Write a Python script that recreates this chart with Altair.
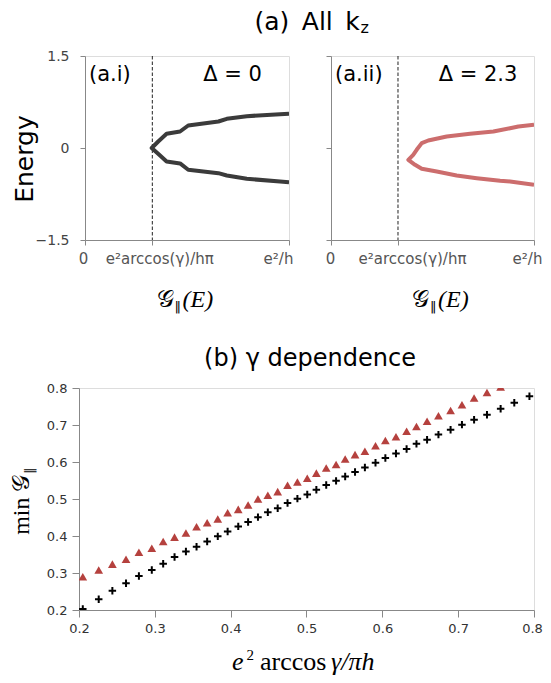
import altair as alt
import pandas as pd

# ---------------- Panel (a) data ----------------
a_g_black = [1.000, 0.956, 0.793, 0.695, 0.654, 0.506, 0.466, 0.400, 0.359, 0.327,
             0.368, 0.400, 0.466, 0.506, 0.654, 0.695, 0.793, 0.956, 1.000]
a_E_black = [0.558, 0.551, 0.519, 0.476, 0.432, 0.367, 0.269, 0.232, 0.106, 0.000,
             -0.122, -0.220, -0.252, -0.355, -0.410, -0.448, -0.502, -0.546, -0.557]
a_g_red = [1.000, 0.923, 0.882, 0.800, 0.685, 0.570, 0.479, 0.447, 0.422, 0.405, 0.381,
           0.414, 0.447, 0.521, 0.619, 0.718, 0.833, 0.882, 1.000]
a_E_red = [0.378, 0.350, 0.323, 0.269, 0.232, 0.188, 0.122, 0.079, -0.029, -0.111, -0.192,
           -0.274, -0.339, -0.383, -0.448, -0.492, -0.535, -0.546, -0.600]
a_threshold = [0.33]
a_xticks = [0, 0.33, 1]
a_xtick_labels = ["0", "e²arccos(γ)/hπ", "e²/h"]
a_yticks = [-1.5, 0, 1.5]

# ---------------- Panel (b) data ----------------
b_x = [0.205, 0.226, 0.244, 0.262, 0.279, 0.296, 0.311, 0.326, 0.341, 0.355,
       0.369, 0.383, 0.396, 0.410, 0.423, 0.436, 0.449, 0.462, 0.475, 0.488,
       0.501, 0.513, 0.526, 0.539, 0.551, 0.564, 0.577, 0.591, 0.604, 0.618,
       0.632, 0.645, 0.659, 0.674, 0.690, 0.705, 0.721, 0.738, 0.756, 0.774, 0.794]
b_cross_y = [0.203, 0.229, 0.252, 0.272, 0.292, 0.308, 0.325, 0.343, 0.358, 0.371,
             0.385, 0.399, 0.412, 0.426, 0.438, 0.451, 0.464, 0.475, 0.489, 0.501,
             0.512, 0.525, 0.538, 0.549, 0.561, 0.573, 0.585, 0.598, 0.611, 0.623,
             0.635, 0.649, 0.660, 0.674, 0.687, 0.701, 0.714, 0.728, 0.744, 0.760, 0.778]
b_tri_y = [0.290, 0.308, 0.324, 0.337, 0.356, 0.367, 0.385, 0.397, 0.408, 0.425,
           0.436, 0.446, 0.463, 0.472, 0.484, 0.500, 0.510, 0.520, 0.537, 0.546,
           0.556, 0.570, 0.584, 0.593, 0.608, 0.620, 0.629, 0.644, 0.658, 0.668,
           0.683, 0.696, 0.710, 0.725, 0.739, 0.755, 0.773, 0.788, 0.803]
b_ticks = [0.2, 0.3, 0.4, 0.5, 0.6, 0.7, 0.8]

# ---------------- texts ----------------
title_a_main = "(a)\u2002All\u2002k"
title_a_sub = "z"
tag_ai, tag_aii = "(a.i)", "(a.ii)"
delta_ai, delta_aii = "Δ = 0", "Δ = 2.3"
energy_label = "Energy"
g_main, g_par, g_arg = "𝒢", "‖", "(E)"
title_b = "(b) γ dependence"
b_ylab_main, b_ylab_sub = "min 𝒢", "‖"
b_xlab = ["e", "2", "arccos", "γ/πh"]

SANS = "DejaVu Sans"
SERIF = "Liberation Serif"

W_A1, W_A2, H_A = 204, 203, 184
W_B, H_B = 455, 222


def txt(s, x, y, size, font=SANS, align="center", baseline="alphabetic",
        angle=0, style="normal", color="black"):
    return alt.Chart(pd.DataFrame({"t": [s]})).mark_text(
        align=align, baseline=baseline, fontSize=size, font=font, angle=angle,
        fontStyle=style, color=color
    ).encode(x=alt.value(x), y=alt.value(y), text="t:N")


def label_expr():
    parts = []
    for v, l in zip(a_xticks, a_xtick_labels):
        parts.append(f"datum.value == {v} ? '{l}' : ")
    return "".join(parts) + "''"


def cond_offset(mapping, default=0):
    return {"condition": [{"test": f"datum.value == {k}", "value": v} for k, v in mapping],
            "value": default}


def panel_a(g, E, color, tag, delta, first, width, offs, gx):
    df = pd.DataFrame({"g": g, "E": E, "o": list(range(len(g)))})
    xax = alt.Axis(values=a_xticks, labelExpr=label_expr(), title=None, tickSize=5,
                   labelPadding=6, labelFontSize=15, labelFont=SANS, labelColor="#555",
                   labelOffset=cond_offset(offs), labelFlush=False, grid=False)
    yax = alt.Axis(values=a_yticks, title=None, tickSize=5, labels=first,
                   labelPadding=11, labelFontSize=14, labelFont=SANS, labelColor="#444",
                   format=".1~f", grid=False)
    line = alt.Chart(df).mark_line(color=color, strokeWidth=4, strokeJoin="round",
                                   clip=True).encode(
        x=alt.X("g:Q", scale=alt.Scale(domain=[0, 1], nice=False), axis=xax),
        y=alt.Y("E:Q", scale=alt.Scale(domain=[-1.5, 1.5], nice=False), axis=yax),
        order=alt.Order("o:Q"),
    )
    vline = alt.Chart(pd.DataFrame({"g": a_threshold})).mark_rule(
        strokeDash=[3.5, 2], color="#222", strokeWidth=1).encode(x="g:Q")
    layers = [vline, line,
              txt(tag, 4, 24.5, 21, align="left"),
              txt(delta, 147.5 if first else 147, 25, 21),
              txt(g_main, gx, 250.5, 24, font=SERIF, align="right"),
              txt(g_par, gx + 1, 254.5, 13, font=SANS, align="left"),
              txt(g_arg, gx + 9, 250.5, 24, font=SERIF, align="left", style="italic")]
    if first:
        layers += [txt(energy_label, -52.4, 103, 25, angle=270),
                   txt(title_a_main, 274.8, -26.2, 25, align="right"),
                   txt(title_a_sub, 275.5, -23.5, 16, align="left")]
    return alt.layer(*layers).properties(width=width, height=H_A)


a1 = panel_a(a_g_black, a_E_black, "#3b3b3b", tag_ai, delta_ai, True, W_A1,
             [(0, -2), (0.33, 7), (1, -11)], 88.5)
a2 = panel_a(a_g_red, a_E_red, "#cc6d6d", tag_aii, delta_aii, False, W_A2,
             [(0, -1), (0.33, 14), (1, -7)], 98)

spacer = alt.Chart(pd.DataFrame({"t": [""]})).mark_text().encode(
    x=alt.value(0), y=alt.value(0), text="t:N"
).properties(width=6, height=H_A, view=alt.ViewBackground(stroke=None))

top = alt.hconcat(spacer, alt.hconcat(a1, a2, spacing=42, bounds="flush"),
                  spacing=0, bounds="flush")

# ---------------- Panel (b) ----------------
df_cross = pd.DataFrame({"x": b_x, "y": b_cross_y})
df_tri = pd.DataFrame({"x": b_x[:len(b_tri_y)], "y": b_tri_y})

bx = alt.X("x:Q", scale=alt.Scale(domain=[0.2, 0.8], nice=False),
           axis=alt.Axis(values=b_ticks, format=".1f", title=None, tickSize=7,
                         labelPadding=5, labelFontSize=13, labelFont=SANS,
                         labelColor="#333", labelFlush=False, grid=False,
                         labelOffset=cond_offset([(0.8, -2)])))
by = alt.Y("y:Q", scale=alt.Scale(domain=[0.2, 0.8], nice=False),
           axis=alt.Axis(values=b_ticks, format=".1f", title=None, tickSize=7,
                         labelPadding=5, labelFontSize=13, labelFont=SANS,
                         labelColor="#333", labelFlush=False, grid=False))

tri = alt.Chart(df_tri).mark_point(shape="triangle-up", filled=True, size=76,
                                   color="#b5413e", opacity=1, clip=True).encode(x=bx, y=by)
cross = alt.Chart(df_cross).mark_point(shape="M-1,0H1M0,-1V1", filled=False, size=56,
                                       strokeWidth=2, color="black", opacity=1,
                                       clip=True).encode(x=bx, y=by)

b = alt.layer(
    tri, cross,
    txt(title_b, 231, -22.5, 24),
    txt(b_ylab_main, -50, 86.5, 24, font=SERIF, align="right", angle=270),
    txt(b_ylab_sub, -45, 86, 13, font=SANS, align="left", angle=270),
    txt(b_xlab[0], 153, 281.5, 26, font=SERIF, align="left", style="italic"),
    txt(b_xlab[1], 167.5, 271.5, 15, font=SERIF, align="left"),
    txt(b_xlab[2], 181, 281.5, 26, font=SERIF, align="left"),
    txt(b_xlab[3], 252, 281.5, 26, font=SERIF, align="left", style="italic"),
).properties(width=W_B, height=H_B)

# the nested (flush) row reports no height of its own, so the gap includes its plot height
chart = alt.vconcat(top, b, spacing=148 + H_A, bounds="flush").properties(
    padding={"left": 1, "top": 1, "right": 0, "bottom": 0}
).configure_view(stroke="black", strokeWidth=1.2).configure_axis(
    domainColor="black", domainWidth=1.2, tickColor="black", tickWidth=1.2, grid=False
).configure(background="white")

chart.save("out.html", embed_options={"renderer": "svg", "actions": False})
